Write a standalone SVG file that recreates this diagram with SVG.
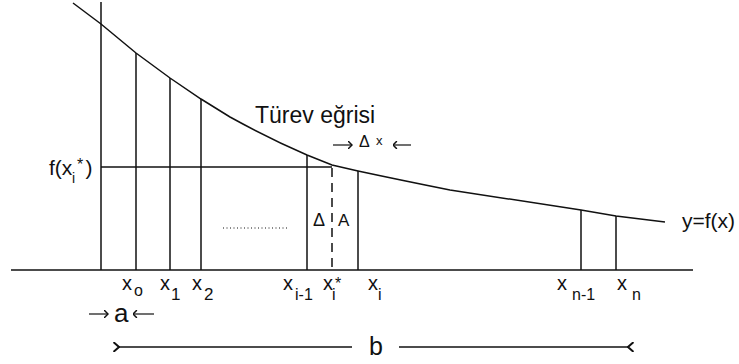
<svg xmlns="http://www.w3.org/2000/svg" width="739" height="364" viewBox="0 0 739 364">
<style>
.ln{stroke:#111;stroke-width:1.5;fill:none}
.sa{stroke:#111;stroke-width:1.2;fill:none}
.t{font-family:"Liberation Sans",Arial,sans-serif;fill:#111}
</style>
<defs>
<marker id="op" viewBox="0 0 10 10" refX="1" refY="5" markerWidth="7" markerHeight="10" markerUnits="userSpaceOnUse" orient="auto-start-reverse" preserveAspectRatio="none">
<path d="M9,0 L1,5 L9,10" fill="none" stroke="#111" stroke-width="2.2"/>
</marker>
<marker id="sm" viewBox="0 0 10 10" refX="9" refY="5" markerWidth="5" markerHeight="8" markerUnits="userSpaceOnUse" orient="auto" preserveAspectRatio="none">
<path d="M1,0 L9,5 L1,10" fill="none" stroke="#111" stroke-width="2.2"/>
</marker>
</defs>
<rect width="739" height="364" fill="#fff"/>
<g id="axes">
<line class="ln" x1="11" y1="270" x2="693" y2="270"/>
</g>
<g id="curve">
<path class="ln" d="M73,3 L101,24 L136,53 L170,78 L201,99 L230,117 Q270,139 307,155 L332,165 L358,171 Q400,180 450,190 L581,210 L616,216 L665,222"/>
</g>
<g id="strips">
<line class="ln" x1="101" y1="2" x2="101" y2="270"/>
<line class="ln" x1="136" y1="53" x2="136" y2="270"/>
<line class="ln" x1="170" y1="78" x2="170" y2="270"/>
<line class="ln" x1="201" y1="99" x2="201" y2="270"/>
<line class="ln" x1="307" y1="155" x2="307" y2="270"/>
<line class="ln" x1="358" y1="171" x2="358" y2="270"/>
<line class="ln" x1="581" y1="210" x2="581" y2="270"/>
<line class="ln" x1="616" y1="216" x2="616" y2="270"/>
<line class="ln" x1="101" y1="167" x2="332" y2="167"/>
<line class="ln" x1="332" y1="168" x2="332" y2="270" stroke-dasharray="9 6"/>
<line x1="223" y1="228" x2="287" y2="228" stroke="#111" stroke-width="1" stroke-dasharray="1 2.5"/>
</g>
<g id="connectors">
<line class="ln" x1="119" y1="347" x2="352" y2="347" marker-start="url(#op)"/>
<line class="ln" x1="399" y1="347" x2="628" y2="347" marker-end="url(#op)"/>
<line class="sa" x1="333" y1="145" x2="352" y2="145" marker-end="url(#sm)"/>
<line class="sa" x1="411" y1="145" x2="393" y2="145" marker-end="url(#sm)"/>
<line class="sa" x1="89" y1="314" x2="108" y2="314" marker-end="url(#sm)"/>
<line class="sa" x1="154" y1="314" x2="133" y2="314" marker-end="url(#sm)"/>
</g>
<g id="labels">
<text class="t" x="255" y="123" font-size="23">Türev eğrisi</text>
<text class="t" x="359" y="147" font-size="16">Δ</text>
<text class="t" x="376" y="145" font-size="13">x</text>
<text class="t" x="49" y="175" font-size="21">f(x</text>
<text class="t" x="72" y="183" font-size="14">i</text>
<text class="t" x="77" y="170" font-size="16">*</text>
<text class="t" x="85.5" y="175" font-size="21">)</text>
<text class="t" x="313" y="226" font-size="18">Δ</text>
<text class="t" x="338" y="226" font-size="17">A</text>
<text class="t" x="682" y="228" font-size="21">y=f(x)</text>
<text class="t" x="122" y="290" font-size="20">x</text><text class="t" x="134" y="296" font-size="16">o</text>
<text class="t" x="160" y="290" font-size="20">x</text><text class="t" x="171" y="300" font-size="17">1</text>
<text class="t" x="192" y="290" font-size="20">x</text><text class="t" x="204" y="300" font-size="17">2</text>
<text class="t" x="283" y="290" font-size="20">x</text><text class="t" x="295" y="300" font-size="16">i-1</text>
<text class="t" x="323" y="290" font-size="20">x</text><text class="t" x="332" y="300" font-size="16">i</text><text class="t" x="335" y="289" font-size="16">*</text>
<text class="t" x="368" y="290" font-size="20">x</text><text class="t" x="378" y="300" font-size="16">i</text>
<text class="t" x="557" y="290" font-size="20">x</text><text class="t" x="572" y="300" font-size="16">n-1</text>
<text class="t" x="617" y="290" font-size="20">x</text><text class="t" x="632" y="300" font-size="16">n</text>
<text class="t" x="114" y="322" font-size="26">a</text>
<text class="t" x="369" y="355" font-size="25">b</text>
</g>
</svg>
